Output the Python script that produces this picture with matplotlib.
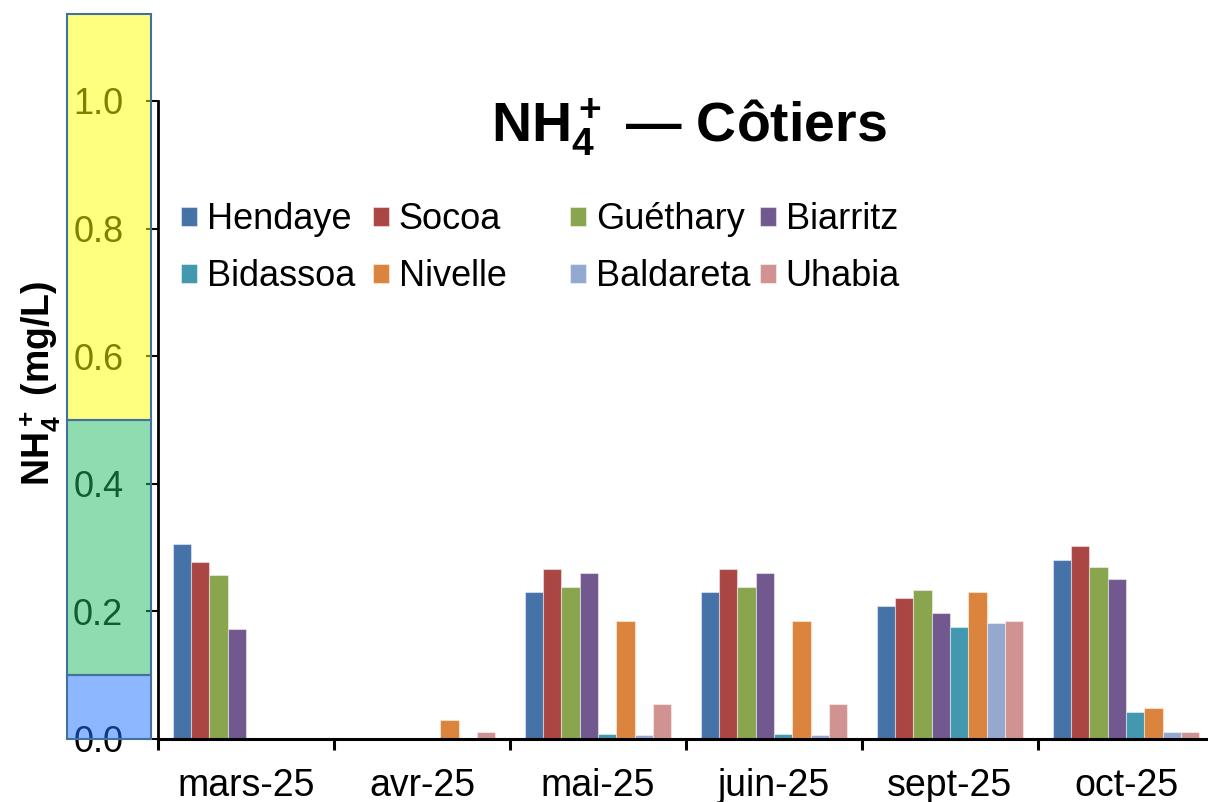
import numpy as np
import matplotlib
matplotlib.use("Agg")
import matplotlib.pyplot as plt
from matplotlib.patches import Rectangle
from matplotlib.transforms import blended_transform_factory

plt.rcParams["font.family"] = ["Liberation Sans", "DejaVu Sans"]
plt.rcParams["mathtext.fontset"] = "custom"
plt.rcParams["mathtext.rm"] = "Liberation Sans:bold"
plt.rcParams["mathtext.it"] = "Liberation Sans:bold"
plt.rcParams["mathtext.bf"] = "Liberation Sans:bold"

nan = np.nan
mois = ["mars-25", "avr-25", "mai-25", "juin-25", "sept-25", "oct-25"]

stations = ["Hendaye", "Socoa", "Guéthary", "Biarritz",
            "Bidassoa", "Nivelle", "Baldareta", "Uhabia"]
couleurs = ["#4572A7", "#AA4643", "#89A54E", "#71588F",
            "#4198AF", "#DB843D", "#93A9CF", "#D19392"]

hendaye = [0.306, nan, 0.231, 0.231, 0.209, 0.281]
socoa = [0.278, nan, 0.266, 0.266, 0.221, 0.302]
guethary = [0.257, nan, 0.239, 0.239, 0.233, 0.269]
biarritz = [0.173, nan, 0.260, 0.260, 0.197, 0.251]
bidassoa = [nan, nan, 0.008, 0.008, 0.176, 0.043]
nivelle = [nan, 0.029, 0.185, 0.185, 0.230, 0.049]
baldareta = [nan, nan, 0.007, 0.007, 0.182, 0.011]
uhabia = [nan, 0.011, 0.055, 0.055, 0.185, 0.011]
series = [hendaye, socoa, guethary, biarritz, bidassoa, nivelle, baldareta, uhabia]

# classes de qualité (mg/L) : bleu / vert / jaune
seuils = [0.0, 0.1, 0.5, 1.137]
couleurs_classes = [(0.11, 0.44, 1.0, 0.5), (0.12, 0.73, 0.38, 0.5), (1.0, 1.0, 0.0, 0.5)]

W, H = 1208, 802
fig = plt.figure(figsize=(W / 100, H / 100), dpi=100)
ax = fig.add_axes([158 / W, 63 / H, 1056 / W, 638 / H])

x = np.arange(len(mois))
largeur = 0.104
for i, (nom, vals, c) in enumerate(zip(stations, series, couleurs)):
    ax.bar(x + (i - 3.5) * largeur, vals, largeur, color=c, label=nom,
           edgecolor=(1, 1, 1, 0.45), linewidth=0.8)

ax.set_xlim(-0.5, len(mois) - 0.5)
ax.set_ylim(0, 1.0)
ax.set_yticks(np.arange(0, 1.01, 0.2))
ax.set_yticklabels([f"{v:.1f}" for v in np.arange(0, 1.01, 0.2)])
ax.set_xticks(np.arange(-0.5, len(mois), 1.0))
ax.set_xticklabels([])
ax.set_xticks(x, labels=mois, minor=True)
ax.tick_params(axis="x", which="major", direction="out", length=8, width=2.2)
ax.tick_params(axis="x", which="minor", length=0, pad=21, labelsize=27)
ax.tick_params(axis="y", direction="out", length=9, width=1.5, pad=16, labelsize=26)

for s in ("top", "right"):
    ax.spines[s].set_visible(False)
ax.spines["left"].set_linewidth(2)
ax.spines["bottom"].set_linewidth(2.2)

# bandeau des classes posé par-dessus les graduations
trans = blended_transform_factory(fig.transFigure, ax.transData)
for bas, haut, c in zip(seuils[:-1], seuils[1:], couleurs_classes):
    ax.add_patch(Rectangle((67 / W, bas), 84 / W, haut - bas, transform=trans,
                           facecolor=c, edgecolor="#41719C", linewidth=1.5,
                           clip_on=False, zorder=10))

fig.text(689 / W, 1 - 128 / H, r"$\mathrm{NH}_4^+$ — Côtiers",
         ha="center", va="center", fontsize=40, fontweight="bold")
fig.text(40 / W, 1 - 383 / H, r"$\mathrm{NH}_4^+$ (mg/L)", rotation=90,
         ha="center", va="center", fontsize=27, fontweight="bold")

# légende : 4 colonnes régulières, 2 lignes
handles, labels = ax.get_legend_handles_labels()
colonnes_x = [181, 373, 570, 760]
for j, cx in enumerate(colonnes_x):
    idx = [j, j + 4]
    fig.legend([handles[k] for k in idx], [labels[k] for k in idx],
               loc="upper left", bbox_to_anchor=(cx / W, 1 - 202 / H),
               frameon=False, borderpad=0, borderaxespad=0, fontsize=26,
               handlelength=0.43, handleheight=0.43, handletextpad=0.28,
               labelspacing=0.62)

fig.savefig("out.png", dpi=100)
